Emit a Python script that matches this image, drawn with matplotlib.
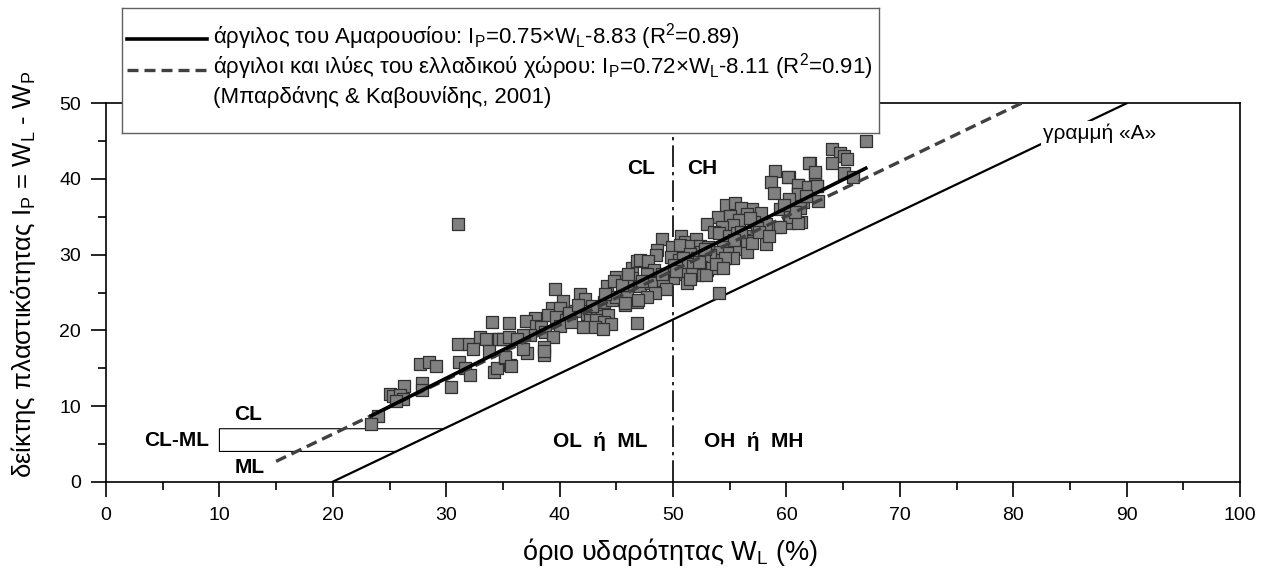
import matplotlib
matplotlib.use("Agg")
import matplotlib.pyplot as plt
from matplotlib.patches import Polygon
from matplotlib.ticker import MultipleLocator

plt.rcParams['font.family'] = ['Liberation Sans', 'DejaVu Sans']
plt.rcParams['mathtext.fontset'] = 'custom'
plt.rcParams['mathtext.rm'] = 'Liberation Sans'
plt.rcParams['mathtext.it'] = 'Liberation Sans:italic'
plt.rcParams['mathtext.bf'] = 'Liberation Sans:bold'

# ---------------- data ----------------
WL = [34.0, 31.0, 32.0, 33.0, 33.5, 34.6, 32.4, 33.8, 27.7, 28.5, 29.1, 31.1, 31.7, 32.1, 34.2, 34.5,
      27.9, 27.9, 30.4, 26.3, 25.0, 25.3, 25.9, 26.2, 25.6, 24.0, 23.4,
      35.5, 34.7, 35.0, 35.5, 35.2, 35.6,
      31.0, 39.6, 40.3, 39.3, 40.0, 41.8, 42.2, 45.0, 46.4, 46.8, 46.4, 44.2, 45.8, 43.9, 44.6, 45.8,
      46.8, 45.0, 45.9, 41.4, 42.4, 43.3, 43.7, 44.3, 42.7, 43.2, 43.9, 44.5, 42.1, 43.1, 43.8, 46.8,
      39.0, 39.7, 40.6, 40.0, 41.0, 37.8, 37.0, 37.9, 38.4, 38.7, 39.4, 37.4, 36.8, 36.2, 35.2, 35.7,
      37.1, 36.8, 38.6, 38.6, 38.6,
      59.0, 62.1, 62.5, 58.6, 60.2, 58.9, 61.0, 61.8, 62.7, 61.0, 60.2, 61.5, 62.8, 59.4, 60.3, 61.3,
      60.2, 59.1, 58.2, 58.2, 54.7, 55.5, 57.0, 57.8, 56.0, 56.5,
      54.0, 55.0, 55.8, 55.3, 54.3, 53.0, 53.6, 54.1, 54.9, 55.6, 57.1, 57.4, 56.9, 56.3, 55.6, 55.0,
      54.4, 54.0, 53.3, 53.9, 54.9, 55.8, 56.5, 55.3, 54.6, 56.5, 57.0, 54.1,
      49.0, 48.6, 48.5, 49.9, 50.7, 51.1, 50.6, 52.0, 51.6, 52.4, 52.5, 51.5, 52.1, 53.1, 53.3, 52.7,
      49.8, 50.5, 50.9, 50.1, 50.8, 51.3, 51.8, 52.5, 53.0, 53.4, 52.1, 52.9, 51.6, 50.6, 51.2, 50.0,
      47.1, 47.8, 48.3, 47.7, 45.9, 47.1, 48.1, 49.1, 49.4, 48.4, 47.7, 46.9, 45.8, 49.0,
      67.0, 64.0, 64.7, 65.1, 65.3, 64.0, 62.0, 62.5, 65.1, 65.9, 60.1, 61.0, 61.0, 61.9, 62.7, 60.2,
      61.2, 60.3, 61.0, 59.4,
      44.8, 45.5, 46.0, 47.3, 44.0, 51.5, 52.3, 53.8, 50.3, 52.8, 54.4, 56.0, 57.6, 58.5, 56.8, 55.4,
      60.8, 61.7, 59.8, 40.8, 41.6, 42.9]
IP = [21.05, 18.15, 18.15, 19.1, 18.8, 18.9, 17.5, 17.3, 15.5, 15.8, 15.3, 15.8, 15.0, 14.1, 14.5, 15.0,
      13.1, 12.1, 12.5, 12.6, 11.6, 11.3, 11.45, 10.9, 10.6, 8.7, 7.6,
      21.0, 18.85, 18.8, 19.15, 16.3, 15.4,
      34.0, 25.45, 23.9, 23.0, 23.0, 24.8, 24.1, 27.1, 28.2, 29.1, 26.9, 25.8, 25.3, 23.8, 24.0, 23.3,
      23.8, 24.4, 24.4, 22.5, 22.2, 22.1, 21.9, 22.0, 21.4, 21.4, 21.1, 20.9, 20.5, 20.5, 20.2, 21.0,
      22.0, 21.7, 21.4, 20.6, 21.1, 21.6, 21.3, 20.6, 20.5, 19.8, 19.15, 19.4, 19.4, 18.9, 16.5, 15.3,
      17.0, 17.6, 17.8, 16.7, 17.3,
      41.1, 42.1, 40.7, 39.6, 40.2, 38.1, 39.2, 38.9, 39.1, 38.1, 37.2, 36.9, 37.1, 36.0, 35.2, 34.3,
      34.2, 33.7, 34.1, 31.4, 36.6, 36.8, 36.0, 35.5, 36.1, 35.4,
      35.0, 35.1, 34.6, 33.9, 33.7, 34.1, 33.0, 32.8, 32.4, 32.8, 34.3, 33.5, 32.4, 31.9, 31.5, 31.5,
      31.0, 30.4, 29.7, 29.3, 30.2, 30.8, 30.4, 29.6, 29.5, 31.8, 31.5, 24.9,
      32.1, 30.6, 29.9, 31.0, 32.5, 31.7, 31.3, 32.1, 31.1, 31.1, 30.4, 30.1, 29.6, 31.0, 29.9, 29.3,
      29.7, 29.3, 29.5, 28.6, 28.4, 28.8, 28.5, 28.4, 28.0, 28.2, 27.3, 27.3, 27.5, 27.5, 26.3, 26.9,
      29.3, 29.1, 28.0, 27.5, 26.0, 25.8, 26.2, 26.6, 25.5, 24.9, 24.4, 24.0, 23.6, 27.5,
      45.0, 44.0, 43.4, 43.0, 42.7, 42.1, 42.1, 40.9, 40.8, 40.3, 40.2, 39.2, 38.0, 38.9, 39.1, 37.3,
      36.1, 35.0, 34.2, 33.7,
      26.5, 26.0, 27.5, 26.5, 24.8, 26.8, 29.0, 28.8, 27.8, 30.8, 28.3, 33.0, 33.0, 32.5, 34.8, 32.0,
      35.7, 37.7, 36.5, 22.3, 23.3, 23.2]

fit_a, fit_b, fit_range = 0.75, -8.83, [23.4, 67.0]          # Amaroussion clay
grc_a, grc_b, grc_range = 0.72, -8.11, [15.0, 82.0]          # Bardanis & Kavounidis 2001
aline_x, aline_y = [20, 90], [0, 50]                          # A-line
clml_x = [10, 25.6, 29.8, 10]
clml_y = [4, 4, 7, 7]

legend_labels = [
    r'άργιλος του Αμαρουσίου: I$_\mathregular{P}$=0.75×W$_\mathregular{L}$-8.83 (R$^\mathregular{2}$=0.89)',
    r'άργιλοι και ιλύες του ελλαδικού χώρου: I$_\mathregular{P}$=0.72×W$_\mathregular{L}$-8.11 (R$^\mathregular{2}$=0.91)',
    '(Μπαρδάνης & Καβουνίδης, 2001)',
]

# ---------------- figure ----------------
W, H = 1264, 570
fig = plt.figure(figsize=(W / 100, H / 100), dpi=100)
ax = fig.add_axes([106 / W, (H - 481.7) / H, (1240 - 106) / W, (481.7 - 103.3) / H])

ax.set_xlim(0, 100)
ax.set_ylim(0, 50)
ax.xaxis.set_major_locator(MultipleLocator(10))
ax.xaxis.set_minor_locator(MultipleLocator(5))
ax.yaxis.set_major_locator(MultipleLocator(10))
ax.yaxis.set_minor_locator(MultipleLocator(5))
ax.tick_params(which='major', direction='out', length=11, width=1.2, labelsize=14, pad=7)
ax.tick_params(which='minor', direction='out', length=6, width=1.2)
for s in ax.spines.values():
    s.set_linewidth(1.2)

# A-line
ax.plot(aline_x, aline_y, color='black', lw=1.6, zorder=2)
# CL-ML zone
ax.add_patch(Polygon(list(zip(clml_x, clml_y)), closed=True, fill=False, edgecolor='black', lw=0.8, zorder=2))
# vertical WL=50
ax.plot([50, 50], [0, 50], color='black', lw=1.2, linestyle=(0, (13, 3, 2, 3)), zorder=2)

# scatter
ax.scatter(WL, IP, marker='s', s=64, facecolor='#808080', edgecolor='#303030', linewidths=0.9, zorder=3)

# regression lines
gx = grc_range
ax.plot(gx, [grc_a * v + grc_b for v in gx], color='#404040', lw=2.4, linestyle=(0, (3.3, 1.8)), zorder=4)
fx = fit_range
ax.plot(fx, [fit_a * v + fit_b for v in fx], color='black', lw=2.6, zorder=5)

bold = dict(fontsize=15, fontweight='bold', ha='center', va='center', zorder=6)
ax.text(47.2, 41.4, 'CL', **bold)
ax.text(52.6, 41.4, 'CH', **bold)
ax.text(43.6, 5.3, 'OL  ή  ML', **bold)
ax.text(57.1, 5.3, 'OH  ή  MH', **bold)
ax.text(12.5, 8.9, 'CL', **bold)
ax.text(6.25, 5.4, 'CL-ML', **bold)
ax.text(12.7, 1.9, 'ML', **bold)
ax.text(82.6, 46.1, 'γραμμή «Α»', fontsize=15, ha='left', va='center', zorder=6,
        bbox=dict(facecolor='white', edgecolor='none', pad=1.5))

# axis labels
fig.text(670 / W, 1 - 552 / H, r'όριο υδαρότητας W$_\mathregular{L}$ (%)', fontsize=19.5, ha='center', va='center')
fig.text(24 / W, 1 - 274 / H, r'δείκτης πλαστικότητας I$_\mathregular{P}$ = W$_\mathregular{L}$ - W$_\mathregular{P}$',
         fontsize=18.5, rotation=90, ha='center', va='center')

# legend box (manual)
lx0, ly0, lx1, ly1 = 122, 8, 879, 133
lax = fig.add_axes([lx0 / W, 1 - ly1 / H, (lx1 - lx0) / W, (ly1 - ly0) / H])
lax.set_xlim(0, lx1 - lx0)
lax.set_ylim(ly1 - ly0, 0)
lax.set_xticks([])
lax.set_yticks([])
for s in lax.spines.values():
    s.set_edgecolor('#606060')
    s.set_linewidth(1.0)
lax.plot([5, 85], [31, 31], color='black', lw=2.6)
lax.plot([5, 85], [62, 62], color='#404040', lw=2.4, linestyle=(0, (3.3, 1.8)))
lax.text(91, 35.3, legend_labels[0], fontsize=16, ha='left', va='baseline')
lax.text(91, 66, legend_labels[1], fontsize=16, ha='left', va='baseline')
lax.text(91, 95.3, legend_labels[2], fontsize=16, ha='left', va='baseline')

fig.savefig('out.png', dpi=100)
